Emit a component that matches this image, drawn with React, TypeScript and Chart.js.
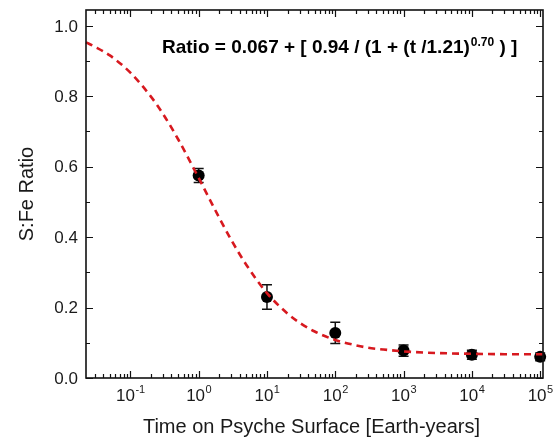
import React, { useEffect, useRef } from 'react';
import { Chart, registerables } from 'chart.js';
Chart.register(...registerables);

const FONT = '"Liberation Sans", Arial, sans-serif';

// measured data points
const pointTime = [1, 10, 100, 1000, 10000, 100000];
const pointRatio = [0.575, 0.23, 0.128, 0.078, 0.066, 0.06];
const pointErr = [0.02, 0.035, 0.03, 0.016, 0.013, 0.011];

// dashed fit curve
const curveTime = [0.0224, 0.03, 0.05, 0.1, 0.2, 0.3, 0.5, 1, 2, 3, 5, 10, 20, 30, 50, 100, 200, 300, 500, 1000, 3000, 10000, 30000, 110000];
const curveRatio = [0.953, 0.941, 0.916, 0.867, 0.799, 0.75, 0.678, 0.568, 0.455, 0.392, 0.321, 0.241, 0.183, 0.157, 0.132, 0.108, 0.093, 0.086, 0.081, 0.0755, 0.071, 0.0687, 0.0676, 0.0673];

const xExponents = [-1, 0, 1, 2, 3, 4, 5];
const yTicks = [0, 0.2, 0.4, 0.6, 0.8, 1.0];
const yMinorTicks = [0.1, 0.3, 0.5, 0.7, 0.9];

const X_MIN = 0.0224;
const X_MAX = 110000;
const Y_MIN = 0;
const Y_MAX = 1.045;

const decorPlugin = {
  id: 'decor',
  beforeDatasetsDraw(chart: any) {
    const { ctx, scales } = chart;
    const x = scales.x, y = scales.y;
    ctx.save();
    ctx.strokeStyle = '#111';
    ctx.lineWidth = 1.5;
    pointTime.forEach((t, i) => {
      const px = x.getPixelForValue(t);
      const top = y.getPixelForValue(pointRatio[i] + pointErr[i]);
      const bot = y.getPixelForValue(pointRatio[i] - pointErr[i]);
      ctx.beginPath();
      ctx.moveTo(px, top); ctx.lineTo(px, bot);
      ctx.moveTo(px - 5, top); ctx.lineTo(px + 5, top);
      ctx.moveTo(px - 5, bot); ctx.lineTo(px + 5, bot);
      ctx.stroke();
    });
    ctx.restore();
  },
  afterDraw(chart: any) {
    const { ctx, chartArea: a, scales } = chart;
    const x = scales.x, y = scales.y;
    ctx.save();
    ctx.strokeStyle = '#111';
    ctx.lineWidth = 1.6;
    ctx.strokeRect(a.left, a.top, a.right - a.left, a.bottom - a.top);
    ctx.lineWidth = 1.2;
    ctx.beginPath();
    // x ticks (bottom and top, inward)
    for (let d = -2; d <= 5; d++) {
      for (let k = 1; k <= 9; k++) {
        const t = k * Math.pow(10, d);
        if (t < X_MIN || t > X_MAX) continue;
        const px = Math.round(x.getPixelForValue(t)) + 0.5;
        const len = k === 1 ? 7 : 4;
        ctx.moveTo(px, a.bottom); ctx.lineTo(px, a.bottom - len);
        ctx.moveTo(px, a.top); ctx.lineTo(px, a.top + len);
      }
    }
    // y ticks
    yTicks.forEach(v => {
      const py = Math.round(y.getPixelForValue(v)) + 0.5;
      ctx.moveTo(a.left, py); ctx.lineTo(a.left + 7, py);
      ctx.moveTo(a.right, py); ctx.lineTo(a.right - 7, py);
    });
    yMinorTicks.forEach(v => {
      const py = Math.round(y.getPixelForValue(v)) + 0.5;
      ctx.moveTo(a.left, py); ctx.lineTo(a.left + 4, py);
      ctx.moveTo(a.right, py); ctx.lineTo(a.right - 4, py);
    });
    ctx.stroke();

    ctx.fillStyle = '#1a1a1a';
    // y labels
    ctx.font = `17px ${FONT}`;
    ctx.textAlign = 'right';
    ctx.textBaseline = 'middle';
    yTicks.forEach(v => {
      ctx.fillText(v.toFixed(1), a.left - 8, y.getPixelForValue(v) + 1);
    });
    // x labels with superscripts
    ctx.textBaseline = 'alphabetic';
    ctx.textAlign = 'left';
    xExponents.forEach(e => {
      const px = x.getPixelForValue(Math.pow(10, e));
      const base = '10';
      const sup = e < 0 ? '-' + Math.abs(e) : String(e);
      ctx.font = `17px ${FONT}`;
      const wb = ctx.measureText(base).width;
      ctx.font = `11px ${FONT}`;
      const ws = ctx.measureText(sup).width;
      const start = px - (wb + ws) / 2;
      ctx.font = `17px ${FONT}`;
      ctx.fillText(base, start, a.bottom + 23);
      ctx.font = `11px ${FONT}`;
      ctx.fillText(sup, start + wb + 0.5, a.bottom + 15);
    });
    // x title
    ctx.font = `20px ${FONT}`;
    ctx.textAlign = 'center';
    ctx.fillText('Time on Psyche Surface [Earth-years]', (a.left + a.right) / 2 - 3, a.bottom + 55);
    // y title
    ctx.save();
    ctx.translate(33, (a.top + a.bottom) / 2);
    ctx.rotate(-Math.PI / 2);
    ctx.textAlign = 'center';
    ctx.fillText('S:Fe Ratio', 0, 0);
    ctx.restore();
    // equation
    ctx.fillStyle = '#000';
    ctx.textAlign = 'left';
    const p1 = 'Ratio = 0.067 + [ 0.94 / (1 + (t /1.21)';
    const p2 = '0.70';
    const p3 = ' ) ]';
    let ex = 162;
    const ey = 53;
    ctx.font = `bold 19px ${FONT}`;
    ctx.fillText(p1, ex, ey);
    ex += ctx.measureText(p1).width;
    ctx.font = `bold 12px ${FONT}`;
    ctx.fillText(p2, ex + 1, ey - 7);
    ex += ctx.measureText(p2).width + 1;
    ctx.font = `bold 19px ${FONT}`;
    ctx.fillText(p3, ex, ey);
    ctx.restore();
  },
};

export default function App() {
  const ref = useRef<HTMLCanvasElement>(null);
  useEffect(() => {
    if (!ref.current) return;
    const chart = new Chart(ref.current, {
      type: 'scatter',
      data: {
        datasets: [
          {
            type: 'line',
            data: curveTime.map((t, i) => ({ x: t, y: curveRatio[i] })),
            borderColor: '#d7191f',
            borderWidth: 2.6,
            borderDash: [7, 5],
            pointRadius: 0,
            fill: false,
            cubicInterpolationMode: 'monotone',
            clip: false,
          } as any,
          {
            data: pointTime.map((t, i) => ({ x: t, y: pointRatio[i] })),
            backgroundColor: '#000',
            borderColor: '#000',
            pointRadius: 6,
            borderWidth: 0,
            clip: false,
          } as any,
        ],
      },
      options: {
        animation: false,
        responsive: false,
        maintainAspectRatio: false,
        layout: { padding: { left: 86, right: 10, top: 10, bottom: 60 } },
        plugins: { legend: { display: false }, tooltip: { enabled: false } },
        scales: {
          x: { type: 'logarithmic', min: X_MIN, max: X_MAX, display: false },
          y: { type: 'linear', min: Y_MIN, max: Y_MAX, display: false },
        },
      },
      plugins: [decorPlugin],
    });
    return () => chart.destroy();
  }, []);
  return (
    <div style={{ position: 'absolute', left: 0, top: 0, width: 553, height: 438, background: '#fff' }}>
      <canvas ref={ref} width={553} height={438} style={{ width: 553, height: 438 }} />
    </div>
  );
}
